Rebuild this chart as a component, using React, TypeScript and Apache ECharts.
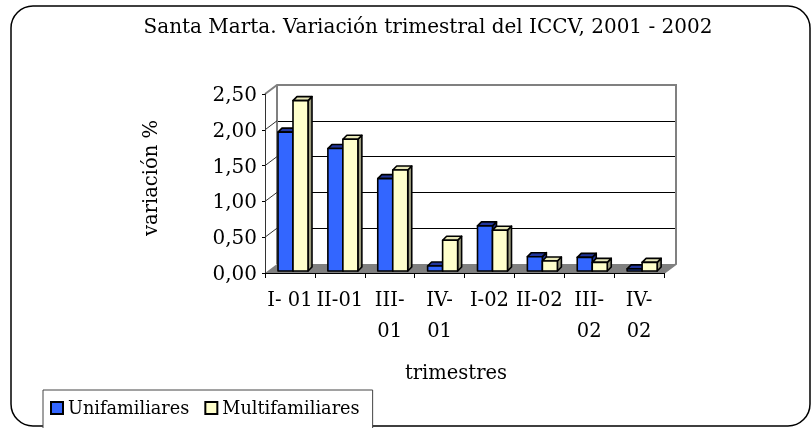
import React, { useEffect, useRef } from "react";
import * as echarts from "echarts";

const categories = ["I- 01", "II-01", "III-\n01", "IV-\n01", "I-02", "II-02", "III-\n02", "IV-\n02"];
const unifamiliares = [1.94, 1.71, 1.29, 0.07, 0.63, 0.2, 0.19, 0.03];
const multifamiliares = [2.38, 1.84, 1.41, 0.43, 0.57, 0.14, 0.12, 0.12];
const yTicks = [0, 0.5, 1, 1.5, 2, 2.5];
const titleText = "Santa Marta. Variación trimestral del ICCV, 2001 - 2002";

const FONT = "DejaVu Serif";
const F = { left: 265, top: 94, width: 399, height: 179 };
const DX = 12;
const DY = -9;
const Y_MAX = 2.5;

function makeRender(offset: number, front: string, topC: string, sideC: string) {
  return (params: any, api: any) => {
    const i = api.value(0);
    const v = api.value(1);
    const base = api.coord([i, 0]);
    const top = api.coord([i, v]);
    const cw = api.size([1, 0])[0];
    const w = 15;
    const d = 4;
    const x0 = base[0] - cw / 2 + offset;
    const y0 = base[1] - 2;
    const y1 = top[1] - 2;
    const stroke = { stroke: "#000", lineWidth: 1.6, lineJoin: "round" };
    return {
      type: "group",
      children: [
        {
          type: "polygon",
          shape: { points: [[x0 + w, y1], [x0 + w + d, y1 - d], [x0 + w + d, y0 - d], [x0 + w, y0]] },
          style: { fill: sideC, ...stroke },
        },
        {
          type: "polygon",
          shape: { points: [[x0, y1], [x0 + d, y1 - d], [x0 + w + d, y1 - d], [x0 + w, y1]] },
          style: { fill: topC, ...stroke },
        },
        {
          type: "rect",
          shape: { x: x0, y: y1, width: w, height: Math.max(y0 - y1, 0.5) },
          style: { fill: front, ...stroke },
        },
      ],
    };
  };
}

export default function App() {
  const ref = useRef<HTMLDivElement>(null);
  useEffect(() => {
    if (!ref.current) return;
    const chart = echarts.init(ref.current, undefined, { renderer: "svg" });
    const yOf = (v: number) => F.top + F.height - (v / Y_MAX) * F.height;
    const bottom = F.top + F.height;
    const right = F.left + F.width;
    const graphics: any[] = [
      {
        type: "rect",
        z: 0,
        shape: { x: 11, y: 6, width: 799, height: 420, r: 22 },
        style: { fill: "#fff", stroke: "#000", lineWidth: 1.5 },
        silent: true,
      },
      {
        type: "polygon",
        z: 1,
        shape: {
          points: [
            [F.left, bottom],
            [F.left + DX, bottom + DY],
            [right + DX, bottom + DY],
            [right, bottom],
          ],
        },
        style: { fill: "#808080" },
      },
      {
        type: "polyline",
        z: 1,
        shape: {
          points: [
            [F.left, F.top],
            [F.left + DX, F.top + DY],
            [right + DX, F.top + DY],
            [right + DX, bottom + DY],
            [right, bottom],
          ],
        },
        style: { fill: "none", stroke: "#808080", lineWidth: 2 },
      },
      {
        type: "line",
        z: 1,
        shape: { x1: F.left + DX, y1: F.top + DY, x2: F.left + DX, y2: bottom + DY },
        style: { stroke: "#808080", lineWidth: 2 },
      },
      ...yTicks.slice(1, -1).map((v) => ({
        type: "line",
        z: 1,
        shape: { x1: F.left, y1: yOf(v), x2: F.left + DX, y2: yOf(v) + DY },
        style: { stroke: "#333", lineWidth: 1 },
      })),
      {
        type: "text",
        z: 5,
        x: 428,
        y: 26,
        style: { text: titleText, font: `20px '${FONT}'`, fill: "#000", align: "center", verticalAlign: "middle" },
      },
      {
        type: "text",
        z: 5,
        x: 150,
        y: 178,
        rotation: Math.PI / 2,
        style: { text: "variación %", font: `19.5px '${FONT}'`, fill: "#000", align: "center", verticalAlign: "middle" },
      },
      {
        type: "text",
        z: 5,
        x: 456,
        y: 372,
        style: { text: "trimestres", font: `19.5px '${FONT}'`, fill: "#000", align: "center", verticalAlign: "middle" },
      },
    ];

    chart.setOption({
      animation: false,
      backgroundColor: "transparent",
      graphic: graphics,
      legend: {
        left: 43,
        top: 390,
        orient: "horizontal",
        padding: [9, 13, 12, 7],
        itemGap: 15,
        itemWidth: 12,
        itemHeight: 12,
        borderColor: "#444",
        borderWidth: 1,
        backgroundColor: "#fff",
        icon: "rect",
        textStyle: { fontFamily: FONT, fontSize: 17.7, color: "#000", padding: [0, 0, 0, 0] },
        data: [
          { name: "Unifamiliares", itemStyle: { color: "#3366FF", borderColor: "#000", borderWidth: 2 } },
          { name: "Multifamiliares", itemStyle: { color: "#FFFFCC", borderColor: "#000", borderWidth: 2 } },
        ],
      },
      grid: [
        { left: F.left, top: F.top, width: F.width, height: F.height, containLabel: false },
        { left: F.left + DX, top: F.top + DY, width: F.width, height: F.height, containLabel: false },
      ],
      xAxis: [
        {
          type: "category",
          gridIndex: 0,
          data: categories,
          z: 4,
          axisLine: { lineStyle: { color: "#000", width: 1 } },
          axisTick: { show: true, length: 5, lineStyle: { color: "#000" } },
          axisLabel: {
            interval: 0,
            margin: 11,
            fontFamily: FONT,
            fontSize: 19.5,
            color: "#000",
            lineHeight: 31,
          },
          splitLine: { show: false },
        },
        {
          type: "category",
          gridIndex: 1,
          data: categories,
          show: false,
        },
      ],
      yAxis: [
        {
          type: "value",
          gridIndex: 0,
          min: 0,
          max: Y_MAX,
          interval: 0.5,
          z: 4,
          axisLine: { show: true, lineStyle: { color: "#333", width: 1 } },
          axisTick: { show: true, length: 3, lineStyle: { color: "#000" } },
          axisLabel: {
            margin: 8,
            fontFamily: FONT,
            fontSize: 20,
            color: "#000",
            formatter: (v: number) => v.toFixed(2).replace(".", ","),
          },
          splitLine: { show: false },
        },
        {
          type: "value",
          gridIndex: 1,
          min: 0,
          max: Y_MAX,
          interval: 0.5,
          axisLine: { show: false },
          axisTick: { show: false },
          axisLabel: { show: false },
          splitLine: { show: true, lineStyle: { color: "#000", width: 1 } },
        },
      ],
      series: [
        {
          name: "Unifamiliares",
          type: "custom",
          xAxisIndex: 0,
          yAxisIndex: 0,
          z: 3,
          itemStyle: { color: "#3366FF" },
          renderItem: makeRender(13, "#3366FF", "#22369C", "#22369C"),
          data: unifamiliares.map((v, i) => [i, v]),
        },
        {
          name: "Multifamiliares",
          type: "custom",
          xAxisIndex: 0,
          yAxisIndex: 0,
          z: 3,
          itemStyle: { color: "#FFFFCC" },
          renderItem: makeRender(28, "#FFFFCC", "#E8E8B8", "#9C9C7E"),
          data: multifamiliares.map((v, i) => [i, v]),
        },
      ],
    });
    return () => chart.dispose();
  }, []);
  return <div ref={ref} style={{ position: "fixed", left: 0, top: 0, width: 812, height: 428 }} />;
}
